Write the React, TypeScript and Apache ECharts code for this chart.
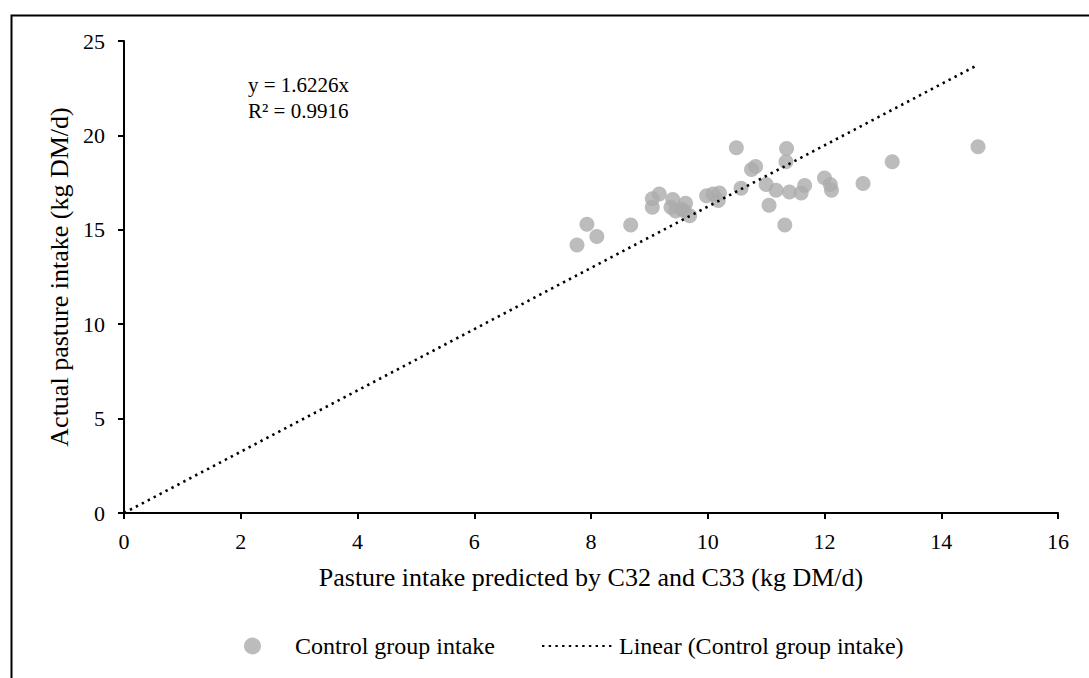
import React, { useEffect, useRef } from "react";
import * as echarts from "echarts";

const predicted = [
  7.76, 7.93, 8.1, 8.68, 9.05, 9.05, 9.17, 9.37, 9.4, 9.45, 9.55, 9.62, 9.6, 9.69,
  9.98, 10.09, 10.2, 10.18, 10.49, 10.57, 10.75, 10.82, 11.0, 11.05, 11.17, 11.32,
  11.35, 11.34, 11.4, 11.6, 11.66, 12.0, 12.1, 12.12, 12.66, 13.16, 14.63,
];
const actual = [
  14.2, 15.3, 14.65, 15.25, 16.2, 16.65, 16.9, 16.2, 16.6, 16.0, 16.1, 16.4, 16.0, 15.75,
  16.8, 16.9, 16.95, 16.55, 19.35, 17.2, 18.2, 18.35, 17.4, 16.3, 17.1, 15.25,
  19.3, 18.6, 17.0, 16.95, 17.35, 17.75, 17.4, 17.1, 17.45, 18.6, 19.4,
];
const trendX = [0, 14.63];
const trendY = [0, 23.74];
const xTicks = [0, 2, 4, 6, 8, 10, 12, 14, 16];
const yTicks = [0, 5, 10, 15, 20, 25];

const scatterName = "Control group intake";
const lineName = "Linear (Control group intake)";
const FONT = "'Liberation Serif', 'Times New Roman', serif";

export default function App() {
  const ref = useRef<HTMLDivElement>(null);
  useEffect(() => {
    if (!ref.current) return;
    const chart = echarts.init(ref.current, null, { renderer: "svg" });
    const axisLine = { show: true, onZero: false, lineStyle: { color: "#000", width: 2 } };
    chart.setOption({
      animation: false,
      backgroundColor: "#fff",
      textStyle: { fontFamily: FONT },
      grid: { left: 124, right: 31, top: 41, bottom: 165 },
      xAxis: {
        type: "value",
        min: xTicks[0],
        max: xTicks[xTicks.length - 1],
        interval: 2,
        axisLine,
        axisTick: { show: true, length: 6, lineStyle: { color: "#000", width: 2 } },
        splitLine: { show: false },
        axisLabel: { color: "#000", fontSize: 22, fontFamily: FONT, margin: 17 },
        name: "Pasture intake predicted by C32 and C33 (kg DM/d)",
        nameLocation: "middle",
        nameGap: 51,
        nameTextStyle: { color: "#000", fontSize: 26, fontFamily: FONT },
      },
      yAxis: {
        type: "value",
        min: yTicks[0],
        max: yTicks[yTicks.length - 1],
        interval: 5,
        axisLine,
        axisTick: { show: true, length: 6, lineStyle: { color: "#000", width: 2 } },
        splitLine: { show: false },
        axisLabel: { color: "#000", fontSize: 22, fontFamily: FONT, margin: 19 },
        name: "Actual pasture intake (kg DM/d)",
        nameLocation: "middle",
        nameGap: 51,
        nameTextStyle: { color: "#000", fontSize: 26, fontFamily: FONT },
      },
      legend: [
        {
          data: [{ name: scatterName, icon: "circle" }],
          left: 244,
          top: 634,
          padding: 0,
          itemWidth: 17,
          itemHeight: 17,
          itemGap: 0,
          textStyle: { color: "#000", fontSize: 24, fontFamily: FONT, padding: [0, 0, 0, 29] },
        },
        {
          data: [{ name: lineName, itemStyle: { opacity: 0 } }],
          left: 541,
          top: 634,
          padding: 0,
          itemWidth: 72,
          itemHeight: 17,
          itemGap: 0,
          textStyle: { color: "#000", fontSize: 24, fontFamily: FONT },
        },
      ],
      series: [
        {
          name: scatterName,
          type: "scatter",
          symbol: "circle",
          symbolSize: 15,
          itemStyle: { color: "#ABABAB" },
          data: predicted.map((x, i) => [x, actual[i]]),
          z: 2,
        },
        {
          name: lineName,
          type: "line",
          showSymbol: false,
          symbol: "none",
          lineStyle: { color: "#000", width: 2.6, type: [2.4, 4.3] },
          itemStyle: { color: "#000" },
          data: trendX.map((x, i) => [x, trendY[i]]),
          z: 3,
        },
      ],
      graphic: [
        {
          type: "rect",
          left: 9,
          top: 13,
          shape: { x: 0, y: 0, width: 1200, height: 800 },
          style: { fill: "none", stroke: "#000", lineWidth: 2 },
          silent: true,
        },
        {
          type: "text",
          left: 248,
          top: 74,
          style: { text: "y = 1.6226x", fill: "#000", fontSize: 21, fontFamily: FONT },
        },
        {
          type: "text",
          left: 248,
          top: 100,
          style: { text: "R² = 0.9916", fill: "#000", fontSize: 21, fontFamily: FONT },
        },
      ],
    });
    return () => chart.dispose();
  }, []);
  return (
    <div
      ref={ref}
      style={{ position: "absolute", left: 0, top: 0, width: 1089, height: 678 }}
    />
  );
}
